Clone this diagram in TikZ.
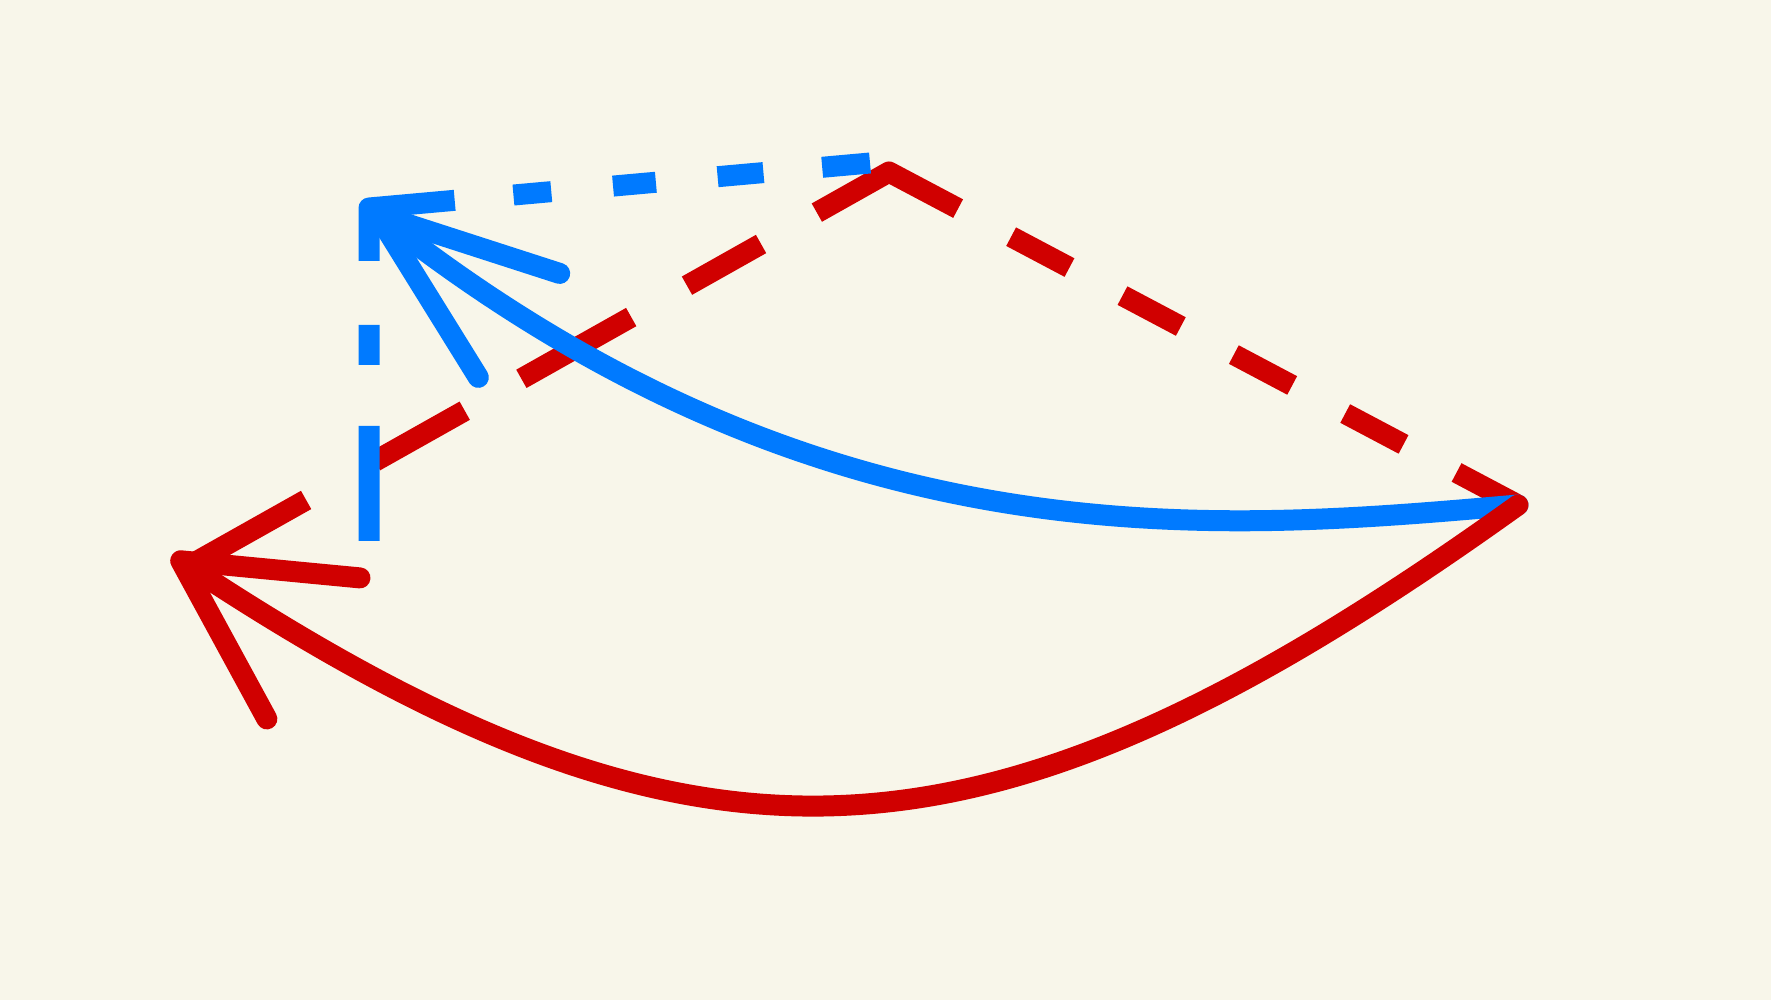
\documentclass[tikz,border=0pt]{standalone}
\usepackage{tikz}
\usetikzlibrary{arrows.meta}
\definecolor{paper}{HTML}{F8F6EA}
\definecolor{skyblue}{HTML}{007AFF}
\definecolor{deepred}{HTML}{D00000}

\begin{document}
\begin{tikzpicture}[x=0.1mm, y=-0.1mm, line width=2.1mm, line join=round,
    bluestroke/.style={draw=skyblue},
    redstroke/.style={draw=deepred}]
    % Canvas
    \fill[paper] (0,0) rectangle (1771,1000);
    \useasboundingbox (0,0) rectangle (1771,1000);

    % Points
    \coordinate (corner) at (369,208);
    \coordinate (blueend) at (870,163);
    \coordinate (bluefoot) at (369,543);
    \coordinate (peak) at (889,172);
    \coordinate (tip) at (1518,505);
    \coordinate (redstart) at (178,572);
    \coordinate (redhead) at (172,555);

    % Red dashed roof
    \draw[redstroke, dash pattern=on 14.7mm off 7.9mm on 10.3mm off 6.5mm on 12.6mm off 6.4mm on 8.5mm off 6.4mm on 16.1mm off 6mm on 6.6mm off 6mm on 6.6mm off 6mm on 6.6mm off 6mm on 6.6mm off 6mm on 6.7mm]
        (redstart) -- (peak) -- (tip);

    % Blue dashed corner
    \draw[bluestroke, dash pattern=on 4.8mm off 5.9mm on 4.6mm off 6.2mm on 4.3mm off 6.2mm on 3.8mm off 5.9mm on 13.9mm off 6.4mm on 4mm off 6.1mm on 11.5mm]
        (blueend) -- (corner) -- (bluefoot);

    % Blue arrow
    \draw[bluestroke, line cap=round, -{Straight Barb[length=18mm, width=13.2mm, round]}]
        (tip) .. controls (1218,531) and (829,568) .. (corner);

    % Red arrow
    \draw[redstroke, line cap=round, -{Straight Barb[length=15.9mm, width=16.9mm, round]}]
        (tip) .. controls (988,885) and (702,905) .. (redhead);
\end{tikzpicture}
\end{document}
